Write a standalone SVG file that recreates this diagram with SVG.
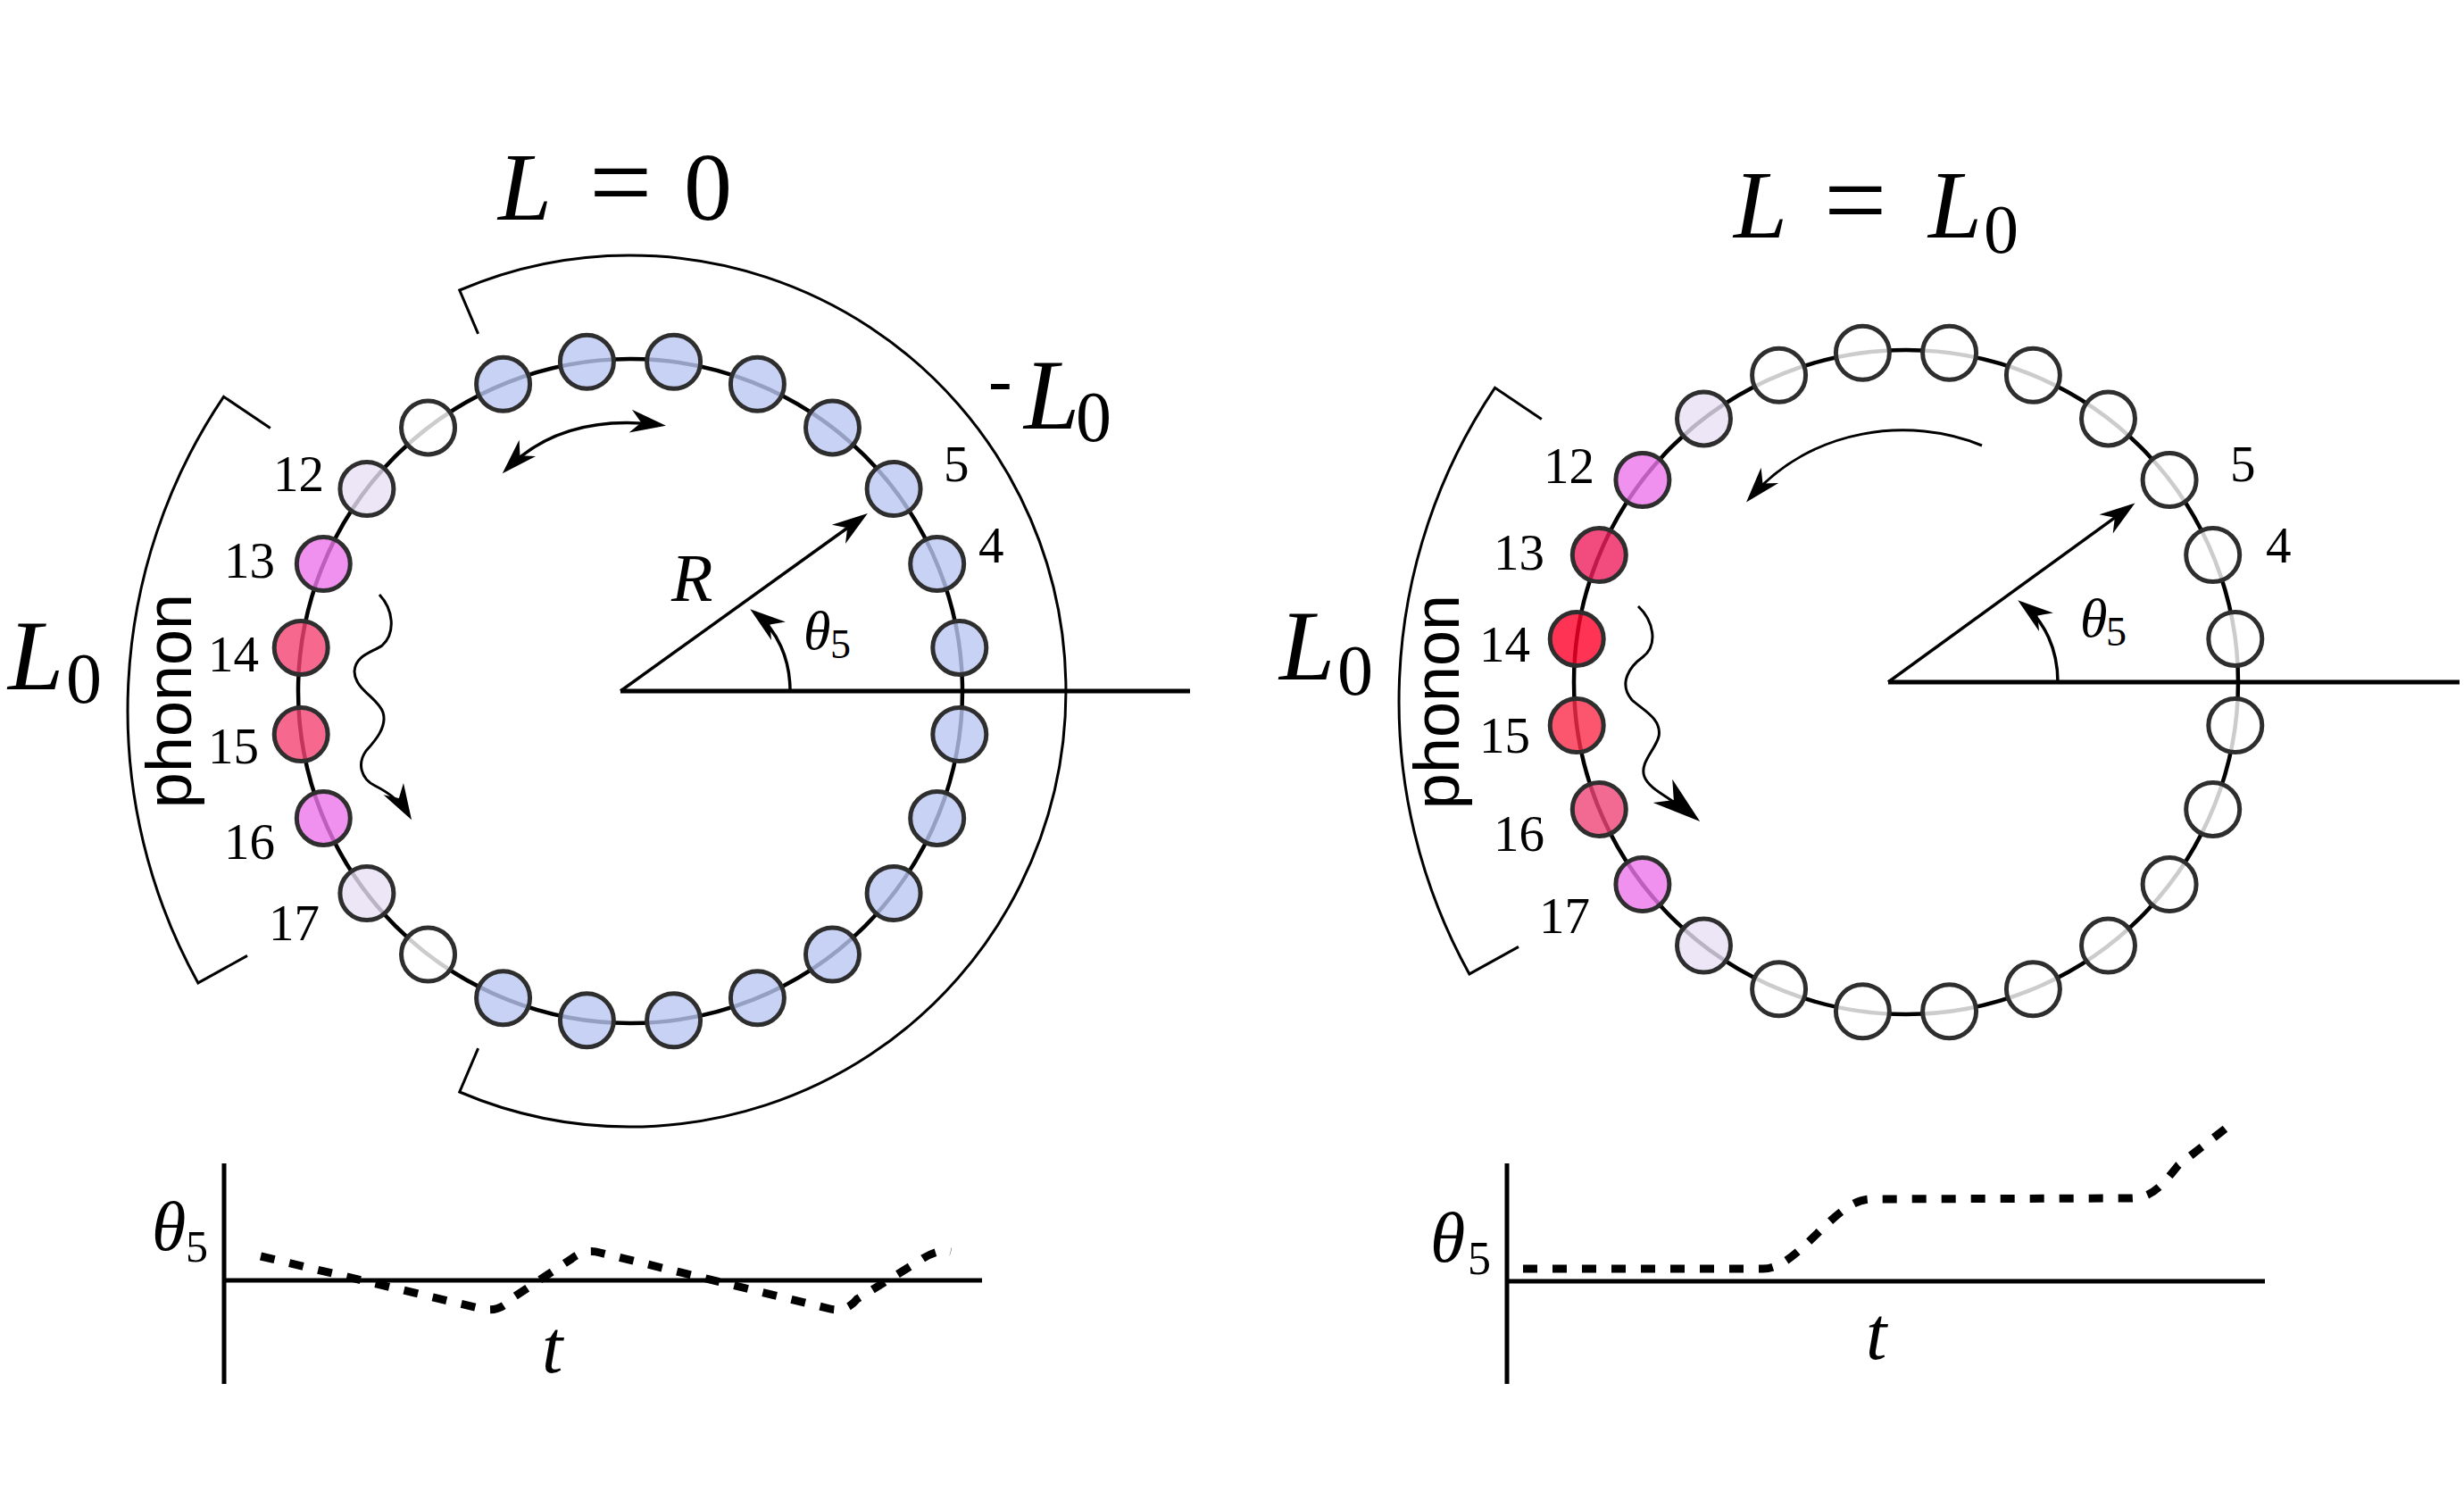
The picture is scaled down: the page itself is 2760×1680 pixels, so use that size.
<svg xmlns="http://www.w3.org/2000/svg" width="2760" height="1680" viewBox="0 0 2760 1680">
<defs>
<style>
.ring{fill:none;stroke:#000;stroke-width:4.5}
.b{stroke:#2e2e2e;stroke-width:5;fill-opacity:0.8}
.blue{fill:#bac7f3}.lav{fill:#e7e0f4}.mag{fill:#ec76ec}.redL{fill:#f44272}.wh{fill:#fff}
.r13{fill:#ef1e5c}.r14{fill:#ff012a}.r15{fill:#fb2b4a}.r16{fill:#ef4376}
.thin{fill:none;stroke:#000;stroke-width:3}
.ln{fill:none;stroke:#000;stroke-width:3.5}
.axis{fill:none;stroke:#000;stroke-width:5}
.dash{fill:none;stroke:#000;stroke-width:9;stroke-dasharray:16 17}
.num{font-size:57px}
.it{font-style:italic}
.sans{font-size:72px}
</style>
<marker id="ah" viewBox="-40 -16 48 32" markerWidth="48" markerHeight="32" refX="0" refY="0" orient="auto-start-reverse" markerUnits="userSpaceOnUse"><path d="M6,0 L-34,-13 L-22,0 L-34,13 Z" fill="#000"/></marker>
<marker id="ahL" viewBox="-52 -20 62 40" markerWidth="62" markerHeight="40" refX="0" refY="0" orient="auto" markerUnits="userSpaceOnUse"><path d="M8,0 L-46,-17 L-30,0 L-46,17 Z" fill="#000"/></marker>
</defs>
<rect width="2760" height="1680" fill="#fff"/>

<g font-family="'Liberation Serif', serif">
<!-- LEFT PANEL -->
<g id="left-title"><text class="it" x="558" y="246" font-size="108">L</text><text x="660" y="246" font-size="125">=</text><text x="766" y="246" font-size="108">0</text></g>
<g id="left-bracket-L0"><path class="thin" d="M535.6,373.8 L514.8,325 A488,488 0 1 1 514.8,1223 L535.6,1174.2"/>
<text x="1107" y="452" font-size="80">-</text><text class="it" x="1147" y="480" font-size="112">L</text><text x="1205" y="494" font-size="80">0</text></g>
<g id="left-bracket-phonon"><path class="thin" d="M302.8,479.5 L250.5,444.3 A629,629 0 0 0 221.9,1100.9 L277,1070.4"/>
<text class="it" x="9" y="772" font-size="112">L</text><text x="74" y="787" font-size="80">0</text>
<text class="sans" text-anchor="middle" transform="translate(214,785) rotate(-90)" font-family="'Liberation Sans', sans-serif">phonon</text></g>
<g id="left-ring"><circle class="ring" cx="706" cy="774" r="372"/></g>
<g id="left-axis-line"><path class="axis" d="M695,774 H1333"/></g>
<g id="left-beads">
<g id="L-b1"><circle class="b blue" cx="1049.7" cy="916.4" r="30"/></g>
<g id="L-b2"><circle class="b blue" cx="1074.8" cy="822.6" r="30"/></g>
<g id="L-b3"><circle class="b blue" cx="1074.8" cy="725.4" r="30"/></g>
<g id="L-b4"><circle class="b blue" cx="1049.7" cy="631.6" r="30"/><text class="num" x="1096" y="629.5">4</text></g>
<g id="L-b5"><circle class="b blue" cx="1001.1" cy="547.5" r="30"/><text class="num" x="1057" y="539">5</text></g>
<g id="L-b6"><circle class="b blue" cx="932.5" cy="478.9" r="30"/></g>
<g id="L-b7"><circle class="b blue" cx="848.4" cy="430.3" r="30"/></g>
<g id="L-b8"><circle class="b blue" cx="754.6" cy="405.2" r="30"/></g>
<g id="L-b9"><circle class="b blue" cx="657.4" cy="405.2" r="30"/></g>
<g id="L-b10"><circle class="b blue" cx="563.6" cy="430.3" r="30"/></g>
<g id="L-b11"><circle class="b wh" cx="479.5" cy="478.9" r="30"/></g>
<g id="L-b12"><circle class="b lav" cx="410.9" cy="547.5" r="30"/><text class="num" x="306" y="549.6">12</text></g>
<g id="L-b13"><circle class="b mag" cx="362.3" cy="631.6" r="30"/><text class="num" x="251" y="647">13</text></g>
<g id="L-b14"><circle class="b redL" cx="337.2" cy="725.4" r="30"/><text class="num" x="233" y="752">14</text></g>
<g id="L-b15"><circle class="b redL" cx="337.2" cy="822.6" r="30"/><text class="num" x="233" y="854.5">15</text></g>
<g id="L-b16"><circle class="b mag" cx="362.3" cy="916.4" r="30"/><text class="num" x="251" y="962">16</text></g>
<g id="L-b17"><circle class="b lav" cx="410.9" cy="1000.5" r="30"/><text class="num" x="301" y="1053">17</text></g>
<g id="L-b18"><circle class="b wh" cx="479.5" cy="1069.1" r="30"/></g>
<g id="L-b19"><circle class="b blue" cx="563.6" cy="1117.7" r="30"/></g>
<g id="L-b20"><circle class="b blue" cx="657.4" cy="1142.8" r="30"/></g>
<g id="L-b21"><circle class="b blue" cx="754.6" cy="1142.8" r="30"/></g>
<g id="L-b22"><circle class="b blue" cx="848.4" cy="1117.7" r="30"/></g>
<g id="L-b23"><circle class="b blue" cx="932.5" cy="1069.1" r="30"/></g>
<g id="L-b24"><circle class="b blue" cx="1001.1" cy="1000.5" r="30"/></g>
</g>
<g id="left-labels"><text class="it" x="752" y="673" font-size="76">R</text><text class="it" x="900" y="727" font-size="62">θ</text><text x="930" y="737" font-size="46">5</text></g>

<!-- RIGHT PANEL -->
<g id="right-title"><text class="it" x="1942" y="266" font-size="108">L</text><text x="2043" y="266" font-size="125">=</text><text class="it" x="2160" y="266" font-size="108">L</text><text x="2222" y="283" font-size="78">0</text></g>
<g id="right-bracket-phonon"><path class="thin" d="M1726.8,469.5 L1674.5,434.3 A629,629 0 0 0 1645.9,1090.9 L1701,1060.4"/>
<text class="it" x="1433" y="761" font-size="112">L</text><text x="1498" y="778" font-size="80">0</text>
<text class="sans" text-anchor="middle" transform="translate(1634,786) rotate(-90)" font-family="'Liberation Sans', sans-serif">phonon</text></g>
<g id="right-ring"><circle class="ring" cx="2135" cy="764" r="372"/></g>
<g id="right-axis-line"><path class="axis" d="M2115,764 H2755"/></g>
<g id="right-beads">
<g id="R-b1"><circle class="b wh" cx="2478.7" cy="906.4" r="30"/></g>
<g id="R-b2"><circle class="b wh" cx="2503.8" cy="812.6" r="30"/></g>
<g id="R-b3"><circle class="b wh" cx="2503.8" cy="715.4" r="30"/></g>
<g id="R-b4"><circle class="b wh" cx="2478.7" cy="621.6" r="30"/><text class="num" x="2538" y="629.5">4</text></g>
<g id="R-b5"><circle class="b wh" cx="2430.1" cy="537.5" r="30"/><text class="num" x="2498" y="539">5</text></g>
<g id="R-b6"><circle class="b wh" cx="2361.5" cy="468.9" r="30"/></g>
<g id="R-b7"><circle class="b wh" cx="2277.4" cy="420.3" r="30"/></g>
<g id="R-b8"><circle class="b wh" cx="2183.6" cy="395.2" r="30"/></g>
<g id="R-b9"><circle class="b wh" cx="2086.4" cy="395.2" r="30"/></g>
<g id="R-b10"><circle class="b wh" cx="1992.6" cy="420.3" r="30"/></g>
<g id="R-b11"><circle class="b lav" cx="1908.5" cy="468.9" r="30"/></g>
<g id="R-b12"><circle class="b mag" cx="1839.9" cy="537.5" r="30"/><text class="num" x="1729" y="541">12</text></g>
<g id="R-b13"><circle class="b r13" cx="1791.3" cy="621.6" r="30"/><text class="num" x="1673" y="638">13</text></g>
<g id="R-b14"><circle class="b r14" cx="1766.2" cy="715.4" r="30"/><text class="num" x="1657" y="740.6">14</text></g>
<g id="R-b15"><circle class="b r15" cx="1766.2" cy="812.6" r="30"/><text class="num" x="1657" y="843">15</text></g>
<g id="R-b16"><circle class="b r16" cx="1791.3" cy="906.4" r="30"/><text class="num" x="1673" y="952.7">16</text></g>
<g id="R-b17"><circle class="b mag" cx="1839.9" cy="990.5" r="30"/><text class="num" x="1724" y="1045">17</text></g>
<g id="R-b18"><circle class="b lav" cx="1908.5" cy="1059.1" r="30"/></g>
<g id="R-b19"><circle class="b wh" cx="1992.6" cy="1107.7" r="30"/></g>
<g id="R-b20"><circle class="b wh" cx="2086.4" cy="1132.8" r="30"/></g>
<g id="R-b21"><circle class="b wh" cx="2183.6" cy="1132.8" r="30"/></g>
<g id="R-b22"><circle class="b wh" cx="2277.4" cy="1107.7" r="30"/></g>
<g id="R-b23"><circle class="b wh" cx="2361.5" cy="1059.1" r="30"/></g>
<g id="R-b24"><circle class="b wh" cx="2430.1" cy="990.5" r="30"/></g>
</g>
<g id="right-labels"><text class="it" x="2330" y="713" font-size="62">θ</text><text x="2359" y="723" font-size="46">5</text></g>

<!-- CONNECTORS -->
<g id="connectors">
<path class="ln" d="M695,774 L967,578.5" marker-end="url(#ah)"/>
<path class="ln" d="M885,774 C885,738 871,706 845,686" marker-end="url(#ah)"/>
<path class="ln" d="M567,526 Q630,462 740,476" marker-start="url(#ah)" marker-end="url(#ah)"/>
<path class="thin" d="M425,666 C440,682 444,708 428,723 C416,731 398,734 397,752 C397,772 424,782 429,798 C434,814 420,830 410,841 C400,855 404,872 420,880 C434,887 448,896 458,913" marker-end="url(#ah)"/>
<path class="ln" d="M2115,764 L2386.6,566.9" marker-end="url(#ah)"/>
<path class="ln" d="M2305,764 C2305,728 2291,696 2265,676" marker-end="url(#ah)"/>
<path class="thin" d="M2220,499 C2140,466 2030,478 1960,558" marker-end="url(#ah)"/>
<path class="thin" d="M1835,679 C1852,695 1858,722 1840,736 C1826,746 1812,765 1828,784 C1840,795 1862,805 1858,825 C1854,840 1836,855 1842,870 C1848,885 1870,892 1898,915" marker-end="url(#ahL)"/>
</g>

<!-- GRAPHS -->
<g id="left-graph">
<path class="axis" d="M251,1303 V1550 M251,1434 H1100"/>
<path class="dash" d="M292,1407 L540,1466 Q560,1470 572,1455 L640,1410 Q655,1398 672,1403 L930,1466 Q948,1470 960,1455 L1030,1412 Q1050,1398 1065,1402"/>
<text class="it" x="170" y="1400" font-size="78">θ</text><text x="208" y="1413" font-size="50">5</text>
<text class="it" x="607" y="1537" font-size="84">t</text>
</g>
<g id="right-graph">
<path class="axis" d="M1688,1303 V1550 M1688,1435 H2537"/>
<path class="dash" d="M1706,1421 L1975,1421 C2015,1421 2055,1343 2095,1343 L2385,1342 C2410,1342 2420,1330 2440,1305 L2498,1260"/>
<text class="it" x="1602" y="1413" font-size="80">θ</text><text x="1644" y="1427" font-size="52">5</text>
<text class="it" x="2090" y="1522" font-size="84">t</text>
</g>
</g>
</svg>
